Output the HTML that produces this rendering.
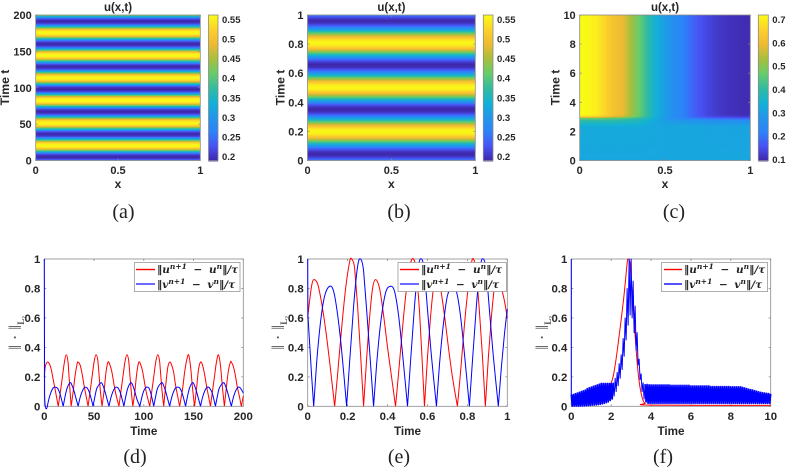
<!DOCTYPE html>
<html>
<head>
<meta charset="utf-8">
<title>u(x,t) heatmaps and residual norms</title>
<style>
html,body{margin:0;padding:0;background:#fff;width:787px;height:467px;overflow:hidden}
svg{display:block;filter:blur(0.35px)}
text{font-family:"Liberation Sans",sans-serif}
.t{font-weight:bold;fill:#262626}
.cap{font-family:"Liberation Serif",serif;font-size:20px;fill:#222;text-anchor:middle}
.leg{font-family:"DejaVu Serif","Liberation Serif",serif;font-weight:bold;font-style:italic;font-size:10.5px;fill:#222;word-spacing:3px}
.ylab{font-family:"Liberation Serif",serif;font-size:18px;fill:#555;text-anchor:middle}
</style>
</head>
<body>
<svg id="figure" xmlns="http://www.w3.org/2000/svg" width="787" height="467" viewBox="0 0 787 467">
  <g id="panel-a"></g>
  <g id="panel-b"></g>
  <g id="panel-c"></g>
  <g id="panel-d"></g>
  <g id="panel-e"></g>
  <g id="panel-f"></g>

  <text class="cap" x="123.5" y="218">(a)</text>
  <text class="cap" x="399" y="218">(b)</text>
  <text class="cap" x="674" y="218">(c)</text>
  <text class="cap" x="135" y="463">(d)</text>
  <text class="cap" x="399" y="463">(e)</text>
  <text class="cap" x="663" y="463">(f)</text>

  <g>
    <rect x="134.5" y="262.5" width="105.5" height="29" fill="#fff" stroke="#999" stroke-width="0.8"/>
    <rect x="136" width="19" y="268.8" height="1.4" style="fill:#f00"/>
    <rect x="136" width="19" y="283.3" height="1.4" style="fill:#2a2aff"/>
    <text class="leg" x="157" y="273">‖u<tspan dy="-4" font-size="7.5">n+1</tspan><tspan dy="4"> − u</tspan><tspan dy="-4" font-size="7.5">n</tspan><tspan dy="4">‖/τ</tspan></text>
    <text class="leg" x="157" y="288">‖v<tspan dy="-4" font-size="7.5">n+1</tspan><tspan dy="4"> − v</tspan><tspan dy="-4" font-size="7.5">n</tspan><tspan dy="4">‖/τ</tspan></text>
  </g>
  <g>
    <rect x="398" y="262.5" width="108.5" height="29" fill="#fff" stroke="#999" stroke-width="0.8"/>
    <rect x="400" width="19" y="268.8" height="1.4" style="fill:#f00"/>
    <rect x="400" width="19" y="283.3" height="1.4" style="fill:#2a2aff"/>
    <text class="leg" x="421" y="273">‖u<tspan dy="-4" font-size="7.5">n+1</tspan><tspan dy="4"> − u</tspan><tspan dy="-4" font-size="7.5">n</tspan><tspan dy="4">‖/τ</tspan></text>
    <text class="leg" x="421" y="288">‖v<tspan dy="-4" font-size="7.5">n+1</tspan><tspan dy="4"> − v</tspan><tspan dy="-4" font-size="7.5">n</tspan><tspan dy="4">‖/τ</tspan></text>
  </g>
  <g>
    <rect x="661.5" y="262.5" width="106" height="29" fill="#fff" stroke="#999" stroke-width="0.8"/>
    <rect x="664" width="18" y="268.8" height="1.4" style="fill:#f00"/>
    <rect x="664" width="18" y="283.2" height="1.6" style="fill:#2a2aff"/>
    <text class="leg" x="684" y="273">‖u<tspan dy="-4" font-size="7.5">n+1</tspan><tspan dy="4"> − u</tspan><tspan dy="-4" font-size="7.5">n</tspan><tspan dy="4">‖/τ</tspan></text>
    <text class="leg" x="684" y="288">‖v<tspan dy="-4" font-size="7.5">n+1</tspan><tspan dy="4"> − v</tspan><tspan dy="-4" font-size="7.5">n</tspan><tspan dy="4">‖/τ</tspan></text>
  </g>
</svg>

<script>
// ---------- Panel (a) data: u over time ----------
const aTimes = [0,2.5,5,7.5,10,12.5,15,17.5,20,22.5,25,27.5,30,32.5,35,37.5,40,42.5,45,47.5,50,52.5,55,57.5,60,62.5,65,67.5,70,72.5,75,77.5,80,82.5,85,87.5,90,92.5,95,97.5,100,102.5,105,107.5,110,112.5,115,117.5,120,122.5,125,127.5,130,132.5,135,137.5,140,142.5,145,147.5,150,152.5,155,157.5,160,162.5,165,167.5,170,172.5,175,177.5,180,182.5,185,187.5,190,192.5,195,197.5,200];
const aValues = [.26,.205,.19,.205,.26,.365,.47,.54,.559,.553,.51,.41,.312,.225,.194,.195,.23,.33,.43,.52,.556,.556,.53,.45,.35,.245,.2,.19,.21,.28,.385,.49,.55,.56,.548,.49,.385,.28,.21,.19,.2,.245,.35,.45,.53,.557,.555,.52,.43,.33,.23,.195,.194,.225,.312,.41,.51,.553,.559,.54,.47,.365,.26,.205,.19,.205,.26,.365,.47,.54,.559,.553,.51,.41,.312,.225,.194,.195,.23,.33,.43];
// ---------- Panel (b) data ----------
const bTimes = [0,.02,.04,.06,.08,.10,.12,.14,.16,.18,.20,.22,.24,.26,.28,.30,.32,.34,.36,.38,.40,.42,.44,.46,.48,.50,.52,.54,.56,.58,.60,.62,.64,.66,.68,.70,.72,.74,.76,.78,.80,.82,.84,.86,.88,.90,.92,.94,.96,.98,1];
const bValues = [.264,.214,.19,.199,.236,.297,.369,.444,.508,.547,.56,.54,.493,.427,.353,.28,.223,.194,.192,.223,.28,.353,.427,.493,.54,.56,.547,.508,.444,.369,.297,.236,.199,.19,.214,.264,.334,.406,.479,.532,.558,.554,.521,.462,.392,.314,.249,.207,.19,.214,.264];
// ---------- Panel (c) data: rows are times, columns are positions ----------
const cPositions = [0,.05,.1,.15,.2,.25,.3,.35,.4,.45,.5,.55,.6,.65,.7,.75,.8,.85,.9,.95,1];
const cTimes = [0,2.3,2.7,2.9,3.0,3.15,10];
const cRow0 = [.32,.32,.32,.32,.32,.32,.32,.32,.32,.32,.32,.32,.32,.32,.32,.32,.32,.32,.32,.32,.32];
const cRow1 = [.33,.33,.33,.33,.33,.33,.33,.33,.325,.325,.32,.32,.32,.32,.318,.318,.316,.316,.315,.315,.315];
const cRow2 = [.39,.39,.39,.39,.39,.385,.38,.37,.345,.32,.305,.295,.29,.285,.28,.275,.27,.27,.27,.27,.27];
const cRow3 = [.47,.47,.47,.46,.45,.44,.42,.40,.37,.33,.29,.26,.24,.22,.205,.195,.185,.18,.175,.17,.17];
const cRow4 = [.66,.655,.64,.62,.58,.56,.50,.45,.39,.33,.29,.255,.225,.19,.17,.155,.145,.14,.135,.13,.13];
const cRow5 = [.72,.715,.70,.665,.62,.60,.53,.47,.40,.34,.30,.26,.23,.19,.16,.14,.125,.115,.11,.105,.105];
const cRow6 = [.72,.715,.70,.665,.62,.60,.53,.47,.40,.34,.30,.26,.23,.19,.16,.14,.125,.115,.11,.105,.105];
// ---------- Panel (d) data ----------
const dTimeU = [0,1,3,5,7,9,11,14,16,18,20,22,24,26,27,29,31,33,34,36,38,40,42,44,46,48,50,52,54,56,58,60,62,64,66,68,70,72,75,77,79,81,83,85,87,89,91,93,95,97,99,101,103,106,108,110,112,114,116,118,120,122,124,126,128,130,132,134,136,139,141,143,145,147,149,151,153,155,157,159,161,163,165,167,169,171,173,175,177,179,181,183,185,187,188,190,192,194,196,198,200];
const dValU = [.2,.27,.30,.29,.25,.18,.11,0,.09,.19,.29,.35,.29,.09,0,.1,.21,.29,.30,.28,.22,.14,.07,0,.1,.2,.3,.35,.3,.13,0,.1,.23,.30,.28,.23,.15,.08,0,.1,.2,.3,.35,.3,.13,0,.1,.23,.30,.28,.23,.15,.08,0,.1,.2,.3,.35,.3,.13,0,.14,.26,.30,.28,.23,.14,.07,0,.12,.23,.31,.35,.27,.12,0,.12,.25,.30,.28,.22,.14,.07,0,.1,.2,.3,.35,.28,.13,0,.13,.24,.30,.30,.27,.21,.13,.07,0,.07];
const dTimeV = [0,.3,3,5,7,9,11,13,15,17,19,21,23,26,28,30,32,34,36,38,40,41,43,45,47,49,51,53,57,59,61,63,65,67,69,71,72,74,76,78,80,82,84,87,89,91,93,96,98,100,102,103,105,107,110,112,114,118,120,122,124,126,128,130,132,134,136,138,140,142,144,146,149,151,153,155,157,159,161,163,165,167,169,172,174,176,180,182,184,186,188,190,192,194,195,197,200];
const dValV = [1,.09,0,.06,.1,.125,.13,.125,.10,.055,0,.07,.125,.16,.14,.10,.05,0,.06,.10,.125,.13,.125,.10,.055,0,.07,.125,.16,.14,.10,.05,0,.06,.10,.125,.13,.125,.10,.055,0,.07,.125,.16,.14,.10,.05,0,.06,.105,.127,.13,.125,.09,0,.07,.125,.16,.14,.10,.05,0,.06,.10,.125,.13,.125,.10,.055,0,.07,.125,.16,.14,.10,.05,0,.06,.10,.125,.13,.115,.085,0,.07,.125,.16,.14,.10,.05,0,.06,.10,.125,.13,.125,.09];
// ---------- Panel (e) data ----------
const eTimeU = [0,.01,.02,.03,.05,.07,.09,.11,.135,.15,.17,.19,.21,.22,.235,.25,.265,.28,.295,.31,.325,.34,.36,.38,.40,.42,.44,.455,.475,.495,.515,.53,.545,.56,.57,.585,.60,.615,.63,.645,.665,.685,.705,.725,.75,.765,.785,.805,.82,.83,.845,.86,.875,.89,.905,.92,.935,.95,.97,.985,1];
const eValU = [.60,.72,.82,.86,.83,.70,.52,.30,0,.22,.53,.80,.98,1,.94,.68,.35,0,.32,.60,.80,.86,.80,.62,.40,.20,0,.22,.53,.80,.97,1,.92,.65,.40,0,.33,.60,.80,.86,.80,.62,.40,.20,0,.22,.55,.82,.97,1,.92,.65,.35,0,.33,.60,.80,.86,.80,.72,.60];
const eTimeV = [0,.001,.01,.02,.03,.045,.065,.085,.11,.13,.15,.17,.195,.21,.23,.25,.265,.28,.295,.31,.33,.345,.365,.39,.415,.435,.455,.475,.50,.515,.535,.555,.57,.585,.60,.62,.645,.66,.68,.70,.725,.745,.765,.785,.81,.825,.845,.865,.88,.895,.91,.93,.955,.97,.985,1];
const eValV = [1,.62,.42,.2,0,.30,.58,.75,.815,.78,.62,.38,0,.3,.68,.95,1,.92,.66,.38,0,.28,.56,.77,.815,.78,.62,.36,0,.3,.68,.95,1,.92,.66,.34,0,.28,.56,.75,.815,.78,.62,.36,0,.3,.68,.95,1,.92,.66,.34,0,.26,.48,.66];
// ---------- Panel (f) data ----------
const fTimeU = [0,.5,1,1.5,2,2.2,2.4,2.6,2.7,2.8,2.85,2.95,3,3.1,3.2,3.3,3.4,3.5,3.6,3.7,4,10];
const fValU = [.02,.02,.04,.08,.16,.28,.48,.70,.83,.97,1,.97,.85,.68,.48,.3,.17,.09,.04,.02,.008,.006];
const fSampleStep = 0.1;
const fHighV = [.08,.08,.085,.09,.095,.10,.105,.11,.12,.125,.13,.135,.14,.145,.15,.155,.155,.155,.155,.155,.155,
 .16,.19,.23,.29,.35,.46,.6,.8,1,1,.85,.68,.5,.32,.22,.16,.15,.148,.146,
 .145,.145,.145,.145,.145,.145,.145,.145,.145,.145,
 .142,.142,.142,.142,.142,.142,.142,.142,.142,.142,
 .138,.138,.138,.138,.138,.138,.138,.138,.138,.138,
 .134,.134,.134,.134,.134,.134,.134,.134,.134,.134,
 .132,.132,.132,.132,.132,.132,
 .128,.124,.12,.116,.113,.11,.106,.102,.098,.095,.092,.09,.088,.086,.085];
const fLowV = [.002,.002,.002,.002,.002,.003,.003,.004,.005,.006,.008,.009,.01,.012,.014,.017,.02,.025,.03,.04,.05,
 .07,.1,.14,.19,.25,.34,.45,.55,.62,.6,.5,.38,.28,.18,.1,.05,.03,.02,.02,
 .02,.02,.02,.02,.02,.02,.02,.02,.02,.02,
 .02,.02,.02,.02,.02,.02,.02,.02,.02,.02,
 .02,.02,.02,.02,.02,.02,.02,.02,.02,.02,
 .02,.02,.02,.02,.02,.02,.02,.02,.02,.02,
 .02,.02,.02,.02,.02,.02,.02,.02,.02,.02,
 .02,.02,.02,.02,.02,.02,.02,.02,.02,.02,.02];
// ---------- Tick labels ----------
const xTicksUnit = ["0","0.5","1"];
const yTicksA = ["0","50","100","150","200"];
const yTicksB = ["0","0.2","0.4","0.6","0.8","1"];
const yTicksC = ["0","2","4","6","8","10"];
const cbTicksAB = ["0.2","0.25","0.3","0.35","0.4","0.45","0.5","0.55"];
const cbTicksC = ["0.1","0.2","0.3","0.4","0.5","0.6","0.7"];
const normTicks = ["0","0.2","0.4","0.6","0.8","1"];
const xTicksD = ["0","50","100","150","200"];
const xTicksE = ["0","0.2","0.4","0.6","0.8","1"];
const xTicksF = ["0","2","4","6","8","10"];
// ---------- Colormap stops (parula) ----------
const parulaR = [62,72,46,33,18,50,102,166,237,252,249];
const parulaG = [38,82,130,150,177,187,204,191,186,207,251];
const parulaB = [168,244,249,235,214,160,107,61,51,44,21];

const NS = 'http://www.w3.org/2000/svg';
function mk(parent, tag, attrs) {
  const el = document.createElementNS(NS, tag);
  for (const k in attrs) el.setAttribute(k, attrs[k]);
  parent.appendChild(el);
  return el;
}
function color(frac) {
  const f = Math.max(0, Math.min(1, frac)) * (parulaR.length - 1);
  const i = Math.min(parulaR.length - 2, Math.floor(f));
  const w = f - i;
  const m = a => Math.round(a[i] + (a[i + 1] - a[i]) * w);
  return 'rgb(' + m(parulaR) + ',' + m(parulaG) + ',' + m(parulaB) + ')';
}
function lookup(xs, v) {
  let i = 0;
  while (i < xs.length - 2 && xs[i + 1] < v) i++;
  const w = Math.max(0, Math.min(1, (v - xs[i]) / (xs[i + 1] - xs[i])));
  return [i, w];
}
function linear(d0, d1, r0, r1) {
  return v => r0 + (v - d0) / (d1 - d0) * (r1 - r0);
}
const AXIS = '#8a8a8a';

function drawAxes(g, box, xLabels, yLabels, xMax, yMax, o) {
  const sx = linear(0, xMax, box.l, box.r);
  const sy = linear(0, yMax, box.b, box.t);
  const frame = mk(g, 'rect', {x: box.l, y: box.t, width: box.r - box.l, height: box.b - box.t, fill: 'none', stroke: AXIS, 'stroke-width': 0.8});
  
  
  xLabels.forEach(lbl => {
    const v = parseFloat(lbl), x = sx(v);
    const tick = mk(g, 'path', {d: 'M' + x + ' ' + box.b + 'v-2M' + x + ' ' + box.t + 'v2', stroke: AXIS, 'stroke-width': 0.8, fill: 'none'});
    
    
    const t = mk(g, 'text', {x: x, y: o.xTickY, 'text-anchor': 'middle', class: 't', 'font-size': o.tickSize});
    t.textContent = lbl;
    
    
  });
  yLabels.forEach(lbl => {
    const v = parseFloat(lbl), y = sy(v);
    const tick = mk(g, 'path', {d: 'M' + box.l + ' ' + y + 'h2M' + box.r + ' ' + y + 'h-2', stroke: AXIS, 'stroke-width': 0.8, fill: 'none'});
    
    
    const t = mk(g, 'text', {x: box.l - 4, y: y + 4, 'text-anchor': 'end', class: 't', 'font-size': o.tickSize});
    t.textContent = lbl;
    
    
  });
  return {sx, sy};
}

function heatmapPanel(id, box, cb, field, cMin, cMax, xLabels, yLabels, yMax, cbLabels, ylabX) {
  const g = document.getElementById(id);
  const cs = linear(cMin, cMax, 0, 1);
  const cellH = 1, cellW = field.rows ? 3 : (box.r - box.l);
  for (let py = box.t; py < box.b; py += cellH) {
    const tv = (box.b - (py + cellH / 2)) / (box.b - box.t) * yMax;
    for (let px = box.l; px < box.r; px += cellW) {
      const xv = (px + cellW / 2 - box.l) / (box.r - box.l);
      const w = Math.min(cellW + 0.5, box.r - px), h = Math.min(cellH + 0.5, box.b - py);
      const cell = mk(g, 'rect', {x: px, y: py, width: w, height: h, fill: color(cs(field.at(xv, tv)))});
      
      
    }
  }
  drawAxes(g, box, xLabels, yLabels, 1, yMax, {xTickY: 174, tickSize: 11});
  const title = mk(g, 'text', {x: (box.l + box.r) / 2, y: 11, 'text-anchor': 'middle', class: 't', 'font-size': 11.5});
  title.textContent = 'u(x,t)';
  
  
  const xl = mk(g, 'text', {x: (box.l + box.r) / 2, y: 188, 'text-anchor': 'middle', class: 't', 'font-size': 12});
  xl.textContent = 'x';
  
  
  const yl = mk(g, 'text', {x: 0, y: 0, 'text-anchor': 'middle', class: 't', 'font-size': 12.2, transform: 'translate(' + ylabX + ' 87.5) rotate(-90)'});
  yl.textContent = 'Time t';
  
  
  // colorbar
  const H = box.b - box.t;
  for (let i = 0; i < H; i += 1) {
    const strip = mk(g, 'rect', {x: cb.l, y: box.t + i, width: cb.r - cb.l, height: 1.4, fill: color(1 - i / H)});
    
    
  }
  const cf = mk(g, 'rect', {x: cb.l, y: box.t, width: cb.r - cb.l, height: H, fill: 'none', stroke: AXIS, 'stroke-width': 0.8});
  
  
  const cy = linear(cMin, cMax, box.b, box.t);
  cbLabels.forEach(lbl => {
    const y = cy(parseFloat(lbl));
    const t = mk(g, 'text', {x: cb.r + 4, y: y + 3.5, class: 't', 'font-size': 9.5});
    t.textContent = lbl;
    
    
  });
}

function profile(times, values) {
  return {at: (x, t) => {
    const [i, w] = lookup(times, t);
    return values[i] + (values[i + 1] - values[i]) * w;
  }};
}
const cRows = [cRow0, cRow1, cRow2, cRow3, cRow4, cRow5, cRow6];
const cField = {rows: true, at: (x, t) => {
  const [i, w] = lookup(cTimes, t);
  const [j, v] = lookup(cPositions, x);
  const a = cRows[i][j] + (cRows[i][j + 1] - cRows[i][j]) * v;
  const b = cRows[i + 1][j] + (cRows[i + 1][j + 1] - cRows[i + 1][j]) * v;
  return a + (b - a) * w;
}};

heatmapPanel('panel-a', {l: 35.7, r: 200.3, t: 15, b: 160.5}, {l: 208.5, r: 218}, profile(aTimes, aValues), .19, .561, xTicksUnit, yTicksA, 200, cbTicksAB, 9);
heatmapPanel('panel-b', {l: 307.5, r: 475.3, t: 15, b: 160.5}, {l: 483.3, r: 493}, profile(bTimes, bValues), .19, .561, xTicksUnit, yTicksB, 1, cbTicksAB, 284.5);
heatmapPanel('panel-c', {l: 579.7, r: 750.3, t: 15, b: 160.5}, {l: 758.3, r: 768.3}, cField, .095, .72, xTicksUnit, yTicksC, 10, cbTicksC, 559.5);

function linePanel(id, box, xLabels, xMax, ylabX) {
  const g = document.getElementById(id);
  const scales = drawAxes(g, box, xLabels, normTicks, xMax, 1, {xTickY: 420, tickSize: 11.4});
  const xl = mk(g, 'text', {x: (box.l + box.r) / 2, y: 435, 'text-anchor': 'middle', class: 't', 'font-size': 11.7});
  xl.textContent = 'Time';
  
  
  const yl = mk(g, 'text', {x: 0, y: 0, class: 'ylab', transform: 'translate(' + ylabX + ' 333) rotate(-90)'});
  yl.textContent = '‖ · ‖';
  
  
  const sub = mk(yl, 'tspan', {dy: 3, 'font-size': 9, 'font-weight': 'bold'});
  sub.textContent = 'L₂';
  
  
  return {g, ...scales};
}
// Straight segments (used for the fast-oscillating band)
function line(p, xs, ys, stroke, name, width) {
  const pts = xs.map((x, i) => p.sx(x).toFixed(2) + ',' + p.sy(ys[i]).toFixed(2)).join(' ');
  const el = mk(p.g, 'polyline', {points: pts, fill: 'none', stroke: stroke, 'stroke-width': width || 1, 'stroke-linejoin': 'round'});
  
  
}
// Smooth curve through the samples, with cusps kept at the zero touches
function curve(p, xs, ys, stroke, name) {
  const P = xs.map((x, i) => [p.sx(x), p.sy(ys[i])]);
  const tangent = i => {
    const atStart = i === 0, atEnd = i === P.length - 1;
    if (atStart || atEnd || ys[i] === 0) return null;
    return [(P[i + 1][0] - P[i - 1][0]) / 6, (P[i + 1][1] - P[i - 1][1]) / 6];
  };
  let d = 'M' + P[0][0].toFixed(2) + ' ' + P[0][1].toFixed(2);
  for (let i = 0; i < P.length - 1; i++) {
    const t0 = tangent(i) || [0, 0], t1 = tangent(i + 1) || [0, 0];
    const steep = Math.abs(P[i + 1][1] - P[i][1]) > 12 * Math.abs(P[i + 1][0] - P[i][0]);
    if (steep) {
      d += 'L' + P[i + 1][0].toFixed(2) + ' ' + P[i + 1][1].toFixed(2);
    } else {
      d += 'C' + (P[i][0] + t0[0]).toFixed(2) + ' ' + (P[i][1] + t0[1]).toFixed(2) + ' ' +
           (P[i + 1][0] - t1[0]).toFixed(2) + ' ' + (P[i + 1][1] - t1[1]).toFixed(2) + ' ' +
           P[i + 1][0].toFixed(2) + ' ' + P[i + 1][1].toFixed(2);
    }
  }
  const el = mk(p.g, 'path', {d: d, fill: 'none', stroke: stroke, 'stroke-width': 1});
  
  
}

const pd = linePanel('panel-d', {l: 44.3, r: 243.3, t: 259, b: 406.3}, xTicksD, 200, 21);
curve(pd, dTimeU, dValU, '#f00', 'series-u');
curve(pd, dTimeV, dValV, '#00f', 'series-v');

const pe = linePanel('panel-e', {l: 307.7, r: 507.3, t: 259, b: 406.3}, xTicksE, 1, 284);
curve(pe, eTimeU, eValU, '#f00', 'series-u');
curve(pe, eTimeV, eValV, '#00f', 'series-v');

const pf = linePanel('panel-f', {l: 571.3, r: 770.7, t: 259, b: 406.3}, xTicksF, 10, 548);
curve(pf, fTimeU, fValU, '#f00', 'series-u');
// Blue band: zigzag between the envelopes; thinner strokes around the peak
function zigzag(from, to, width, name) {
  const fX = [], fY = [];
  for (let i = from; i <= to; i++) {
    const t = i * fSampleStep;
    fX.push(t);
    fY.push(fHighV[i]);
    if (i < to) {
      fX.push(t + fSampleStep / 2);
      fY.push(fLowV[i]);
    }
  }
  line(pf, fX, fY, '#00f', name, width);
}
line(pf, [0, 0], [1, fHighV[0]], '#00f', 'series-v-start-spike', 1);
zigzag(0, 21, 1.7, 'series-v-early');
zigzag(21, 37, 1, 'series-v-peak');
zigzag(37, fHighV.length - 1, 1.7, 'series-v-late');
</script>
</body>
</html>
